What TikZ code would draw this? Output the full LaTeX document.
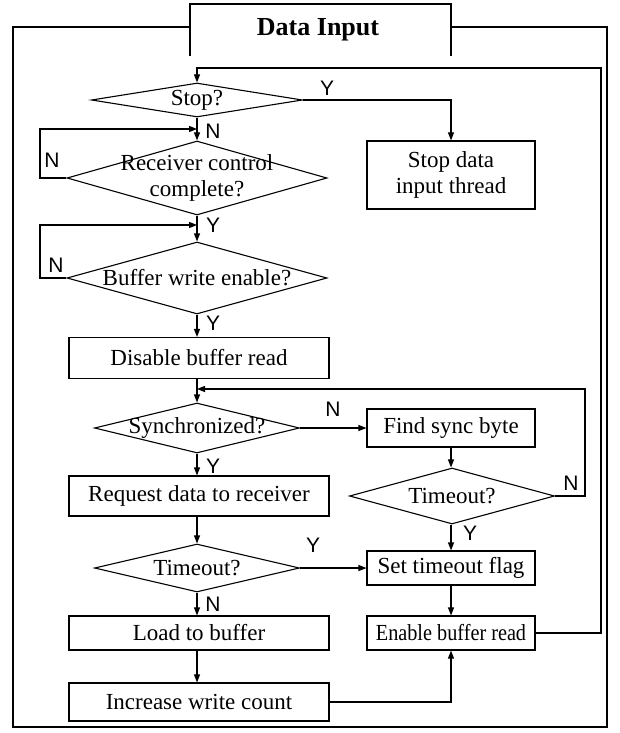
\documentclass[tikz,border=0pt]{standalone}
\usepackage{fontspec}
\usepackage{graphicx}
\setmainfont{Liberation Serif}
\newfontfamily\labelfont{Liberation Sans}
\usetikzlibrary{arrows.meta,shapes.geometric}
\begin{document}
\begin{tikzpicture}[x=1pt,y=-1pt,line width=1.1pt,
  proc/.style={draw,rectangle,inner sep=0pt,align=center,
    font=\fontsize{23}{26}\selectfont},
  dec/.style={draw,diamond,inner sep=0pt},
  dectext/.style={inner sep=0pt,align=center,font=\fontsize{23}{26}\selectfont},
  yn/.style={inner sep=0pt,font=\labelfont\fontsize{21}{21}\selectfont},
  arr/.style={-{Triangle[length=8pt,width=6pt]}}]
\useasboundingbox (0,0) rectangle (619,733);

% outer frame with the title tab
\node[font=\bfseries\fontsize{26}{30}\selectfont] (ttl) at (318,30) {Data Input};
\draw (190,56) -- (190,4) -- (451,4) -- (451,56);
\draw (190,27) -- (13,27) -- (13,727) -- (607,727) -- (607,27) -- (451,27);

% decisions
\node[dec,minimum width=211,minimum height=34] (stop) at (197,100) {};
\node[dectext] (stopT) at (stop) {Stop?};
\node[dec,minimum width=260,minimum height=74] (rcv) at (197,178) {};
\node[dectext] (rcvT) at (rcv) {Receiver control\\complete?};
\node[dec,minimum width=260,minimum height=72] (buf) at (197,278) {};
\node[dectext] (bufT) at (buf) {Buffer write enable?};
\node[dec,minimum width=205,minimum height=50] (sync) at (197,428) {};
\node[dectext] (syncT) at (sync) {Synchronized?};
\node[dec,minimum width=205,minimum height=56] (toB) at (452,496) {};
\node[dectext] (toBT) at (toB) {Timeout?};
\node[dec,minimum width=205,minimum height=48] (toA) at (197,568) {};
\node[dectext] (toAT) at (toA) {Timeout?};

% processes
\node[proc,minimum width=168,minimum height=68] (halt) at (451,175) {Stop data\\input thread};
\node[proc,minimum width=260,minimum height=41] (dis) at (199,358) {Disable buffer read};
\node[proc,minimum width=168,minimum height=38] (find) at (451,428) {Find sync byte};
\node[proc,minimum width=260,minimum height=40] (req) at (199,496) {Request data to receiver};
\node[proc,minimum width=168,minimum height=34] (setf) at (451,568) {Set timeout flag};
\node[proc,minimum width=260,minimum height=34] (load) at (199,633) {Load to buffer};
\node[proc,minimum width=168,minimum height=34] (ena) at (451,633) {\scalebox{0.88}[1]{Enable buffer read}};
\node[proc,minimum width=260,minimum height=38] (inc) at (199,702) {Increase write count};

% junction points on the left stem and loop corners
\coordinate (jA) at (197,129);
\coordinate (jB) at (197,225);
\coordinate (jC) at (197,389);
\coordinate (loopTop) at (601,68);
\coordinate (syncLoop) at (585,389);

% main flow
\draw[arr] (stop.south) -- (rcv.north);
\draw[arr] (rcv.south) -- (buf.north);
\draw[arr] (buf.south) -- (buf.south |- dis.north);
\draw[arr] (dis.south -| sync.north) -- (sync.north);
\draw[arr] (sync.south) -- (sync.south |- req.north);
\draw[arr] (req.south -| toA.north) -- (toA.north);
\draw[arr] (toA.south) -- (toA.south |- load.north);
\draw[arr] (load.south -| toA.south) -- (toA.south |- inc.north);
\draw[arr] (stop.east) -| (halt.north);
\draw[arr] (sync.east) -- (find.west);
\draw[arr] (find.south) -- (find.south |- toB.north);
\draw[arr] (toB.south -| find.south) -- (setf.north);
\draw[arr] (toA.east) -- (setf.west);
\draw[arr] (setf.south) -- (ena.north);
\draw[arr] (inc.east) -| (ena.south);

% loops back
\draw[arr] (rcv.west) -| (40,129) -- (jA);
\draw[arr] (buf.west) -| (40,225) -- (jB);
\draw[arr] (toB.east) -| (syncLoop) -- (jC);
\draw[arr] (ena.east) -| (loopTop) -| (stop.north);

% branch labels
\node[yn] (y1) at (327,88) {Y};
\node[yn] (n1) at (213,131) {N};
\node[yn] (n2) at (52,160) {N};
\node[yn] (y2) at (213,225) {Y};
\node[yn] (n3) at (56,265) {N};
\node[yn] (y3) at (213,323) {Y};
\node[yn] (n4) at (333,409) {N};
\node[yn] (y4) at (213,466) {Y};
\node[yn] (n5) at (571,483) {N};
\node[yn] (y5) at (470,533) {Y};
\node[yn] (y6) at (313,545) {Y};
\node[yn] (n6) at (213,604) {N};
\end{tikzpicture}
\end{document}
